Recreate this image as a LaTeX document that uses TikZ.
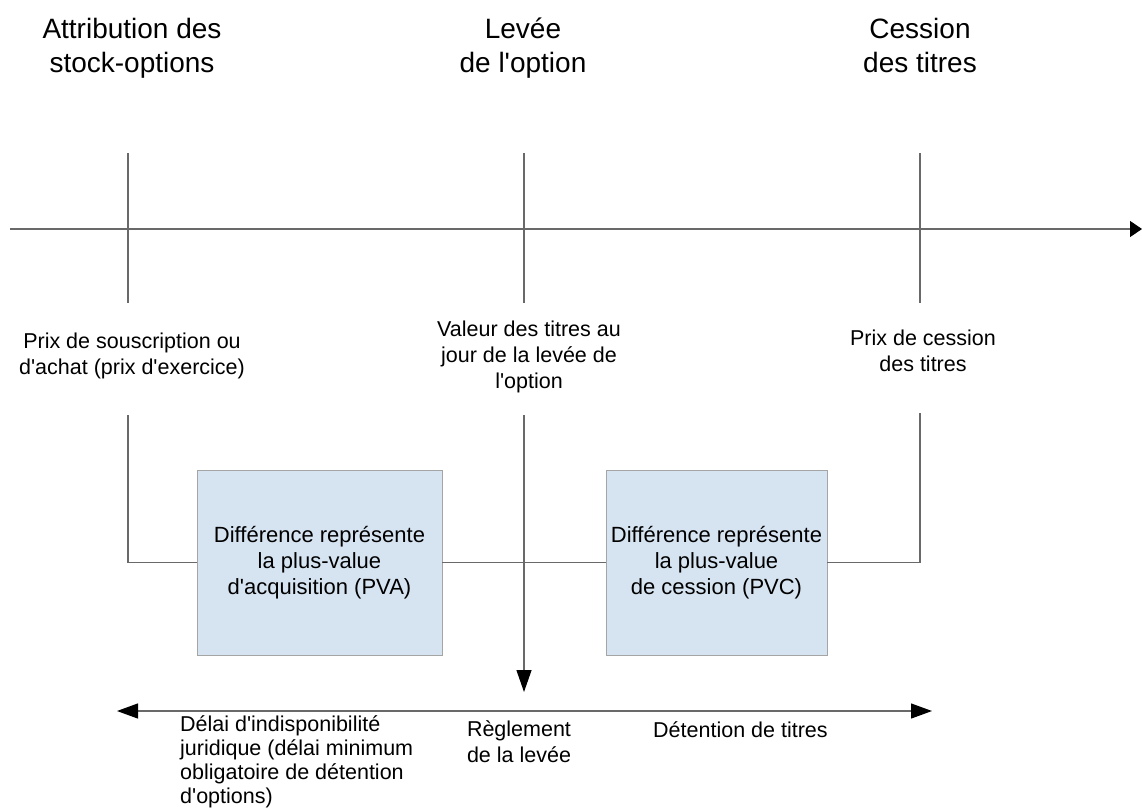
\documentclass[tikz,border=0pt]{standalone}
\usepackage{fontspec}
\setmainfont{Liberation Sans}
\usetikzlibrary{arrows.meta}
\newcommand\ap{\textquotesingle}
\definecolor{boxfill}{RGB}{214,228,242}
\definecolor{boxline}{RGB}{165,165,165}
\definecolor{linegray}{RGB}{105,105,105}
\begin{document}
\begin{tikzpicture}[x=1pt,y=-1pt,
  conn/.style={draw=linegray,line width=1.2pt},
  tip/.style={-{Triangle[length=22pt,width=15pt,color=black]}},
  title/.style={inner sep=0pt,anchor=base,align=center,font=\fontsize{28}{34}\selectfont},
  lbl/.style={inner sep=0pt,anchor=base,align=center,font=\fontsize{21.5}{26}\selectfont},
  lbll/.style={inner sep=0pt,anchor=base west,align=left,font=\fontsize{21.5}{24}\selectfont},
  diffbox/.style={draw=boxline,fill=boxfill,line width=0.8pt,minimum width=245pt,minimum height=185pt,inner sep=0pt,align=center,font=\fontsize{22}{26}\selectfont}]
\useasboundingbox[fill=white] (0,0) rectangle (1142,809);
% titles (base anchor = last line baseline)
\node[title] (t1) at (132,72) {Attribution des\\stock-options};
\node[title] (t2) at (523,72) {Levée\\de l\ap option};
\node[title] (t3) at (920,72) {Cession\\des titres};
% timeline
\coordinate (tlA) at (10,229);
\coordinate (tlB) at (1142,229);
\draw[conn,-{Triangle[length=12pt,width=16pt,color=black]}] (tlA) -- (tlB);
% vertical upper segments
\coordinate (v1a) at (128,153); \coordinate (v1b) at (128,303);
\coordinate (v2a) at (524,153); \coordinate (v2b) at (524,303);
\coordinate (v3a) at (920,153); \coordinate (v3b) at (920,303);
\draw[conn] (v1a) -- (v1b);
\draw[conn] (v2a) -- (v2b);
\draw[conn] (v3a) -- (v3b);
% middle labels
\node[lbl] (m1) at (132,374) {Prix de souscription ou\\d\ap achat (prix d\ap exercice)};
\node[lbl] (m2) at (529,388) {Valeur des titres au\\jour de la levée de\\l\ap option};
\node[lbl] (m3) at (923,371) {Prix de cession\\des titres};
% boxes
\node[diffbox] (pva) at (319.5,562.5) {Différence représente\\la plus-value\\d\ap acquisition (PVA)};
\node[diffbox,minimum width=221pt] (pvc) at (716.5,562.5) {Différence représente\\la plus-value\\de cession (PVC)};
% lower connectors
\coordinate (v1c) at (128,415);
\coordinate (v2c) at (524,415);
\coordinate (v2d) at (524,692);
\coordinate (v3c) at (920,413);
\draw[conn] (v1c) |- (pva.west);
\draw[conn] (v3c) |- (pvc.east);
\draw[conn] (pva.east) -- (pvc.west);
\draw[conn,tip] (v2c) -- (v2d);
% bottom double arrow
\coordinate (bA) at (117,711);
\coordinate (bB) at (932,711);
\draw[conn,{Triangle[length=21pt,width=15pt,color=black]}-{Triangle[length=21pt,width=15pt,color=black]}] (bA) -- (bB);
% bottom labels
\node[lbll] (d1) at (180,803) {Délai d\ap indisponibilité\\juridique (délai minimum\\obligatoire de détention\\d\ap options)};
\node[lbl] (d2) at (519,762) {Règlement\\de la levée};
\node[lbll] (d3) at (653,737) {Détention de titres};
\end{tikzpicture}
\end{document}
